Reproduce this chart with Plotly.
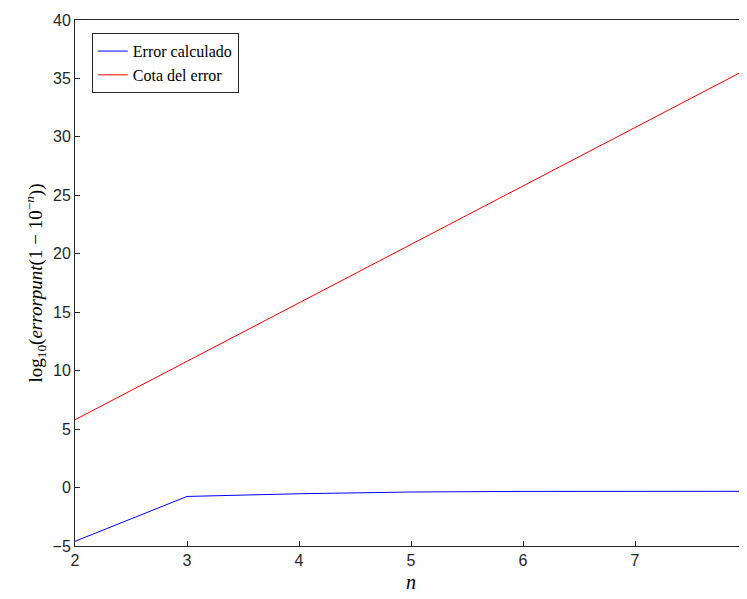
import plotly.graph_objects as go

n = [2, 3, 4, 5, 6, 7, 8]
error_calc = [-4.6, -0.76, -0.53, -0.38, -0.33, -0.32, -0.32]
cota = [5.8, 10.8, 15.8, 20.8, 25.8, 30.8, 35.8]

fig = go.Figure()
fig.add_trace(go.Scatter(x=n, y=error_calc, mode="lines", name="Error calculado",
                         line=dict(color="#0000ff", width=1)))
fig.add_trace(go.Scatter(x=n, y=cota, mode="lines", name="Cota del error",
                         line=dict(color="#ff0000", width=1)))

axis = dict(showline=True, linecolor="#262626", linewidth=1, mirror=True, ticks="inside",
            ticklen=5, tickcolor="#262626", showgrid=False, zeroline=False, automargin=False,
            tickfont=dict(family="Liberation Sans, Arial", size=16, color="#262626"))
fig.update_xaxes(range=[2, 8], dtick=1, title=dict(text="<i>n</i>", standoff=6,
                 font=dict(family="Liberation Serif, serif", size=20, color="black")), **axis)
fig.update_yaxes(range=[-5, 40], dtick=5,
                 title=dict(text="log<sub>10</sub>(<i>errorpunt</i>(1 − 10<sup>−<i>n</i></sup>))", standoff=4,
                            font=dict(family="Liberation Serif, serif", size=19, color="black")), **axis)
fig.update_layout(width=747, height=599, paper_bgcolor="white", plot_bgcolor="white",
                  margin=dict(l=67, r=8, t=12, b=61, autoexpand=False),
                  legend=dict(x=0.025, y=0.975, xanchor="left", yanchor="top",
                              bgcolor="white", bordercolor="#262626", borderwidth=1,
                              font=dict(family="Liberation Serif, serif", size=16, color="black"),
                              tracegroupgap=0))
fig.write_html("out.html")
